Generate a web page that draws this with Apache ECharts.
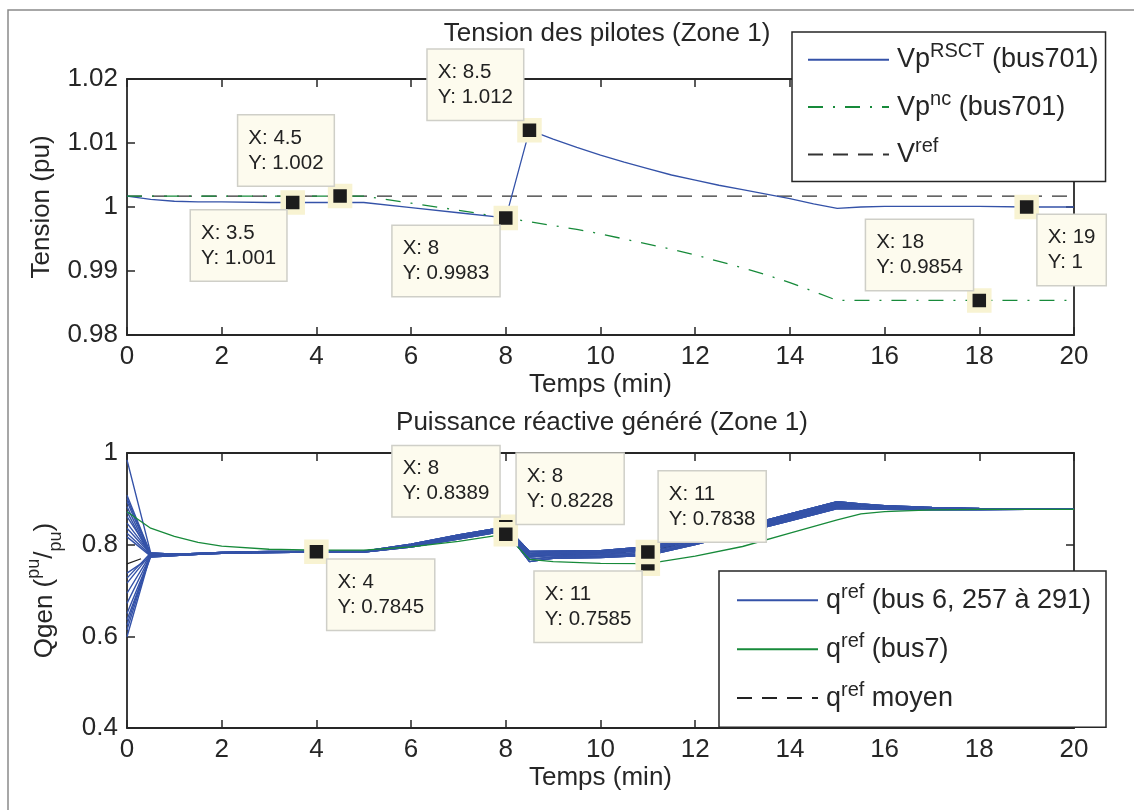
<!DOCTYPE html>
<html>
<head>
<meta charset="utf-8">
<script src="https://cdn.jsdelivr.net/npm/echarts@6/dist/echarts.min.js"></script>
<style>
  html, body { margin: 0; padding: 0; background: #fff; }
  #chart { width: 1134px; height: 810px; }
</style>
</head>
<body>
<div id="chart"></div>
<script>
// --- Tension des pilotes (zone 1) ---
const timeV = [0, 0.5, 1, 1.5, 2, 3, 3.5, 4, 4.5, 5, 6, 7, 8, 8.5, 9, 9.5, 10, 10.5, 11, 11.5,
  12, 12.5, 13, 13.5, 14, 14.5, 15, 15.5, 16, 17, 18, 19, 20];
const vpRsct = [1.0017, 1.0012, 1.0009, 1.0008, 1.0008, 1.0007, 1.0007, 1.0007, 1.0007, 1.0007,
  0.9999, 0.9991, 0.9983, 1.012, 1.0106, 1.0093, 1.0081, 1.0070, 1.0060, 1.0050,
  1.0042, 1.0034, 1.0027, 1.0020, 1.0013, 1.0005, 0.9998, 1.0000, 1.0001, 1.0001, 1.0001, 1.0000, 1.0000];
const vpNc = [1.0017, 1.0017, 1.0017, 1.0017, 1.0017, 1.0017, 1.0017, 1.0017, 1.0017, 1.0017,
  1.0006, 0.9995, 0.9983, 0.9977, 0.9971, 0.9965, 0.9958, 0.9950, 0.9942, 0.9934,
  0.9925, 0.9915, 0.9905, 0.9894, 0.9882, 0.9868, 0.9854, 0.9854, 0.9854, 0.9854, 0.9854, 0.9854, 0.9854];
const refTime = [0, 20];
const vRef = [1.0017, 1.0017];

// --- Puissance réactive (zone 1) ---
const timeQ = [0, 0.5, 1, 1.5, 2, 3, 4, 5, 6, 7, 8, 8.5, 9, 10, 11, 12, 13, 14, 15, 15.5, 16, 17, 18, 19, 20];
// valeurs initiales des courbes bleues (t = 0)
const qStart = [0.985, 0.908, 0.901, 0.894, 0.883, 0.872, 0.861, 0.847, 0.836, 0.825, 0.817,
  0.738, 0.727, 0.716, 0.694, 0.672, 0.650, 0.636, 0.625, 0.614, 0.599];
// suite des courbes bleues (t = 0.5 .. 20), lues du haut au bas du faisceau
const qBand1 = [0.782, 0.779, 0.781, 0.783, 0.785, 0.785, 0.786, 0.801, 0.821, 0.8389, 0.785, 0.786,
  0.787, 0.7956, 0.815, 0.840, 0.867, 0.894, 0.889, 0.885, 0.881, 0.879, 0.878, 0.877];
const qBand2 = [0.780, 0.779, 0.781, 0.783, 0.784, 0.785, 0.785, 0.800, 0.819, 0.837, 0.781, 0.783,
  0.784, 0.792, 0.812, 0.837, 0.864, 0.891, 0.887, 0.884, 0.880, 0.878, 0.877, 0.877];
const qBand3 = [0.779, 0.778, 0.780, 0.782, 0.784, 0.7845, 0.785, 0.799, 0.818, 0.836, 0.777, 0.780,
  0.781, 0.7885, 0.809, 0.834, 0.861, 0.888, 0.885, 0.883, 0.879, 0.878, 0.877, 0.877];
const qBand4 = [0.777, 0.777, 0.780, 0.782, 0.784, 0.7845, 0.785, 0.797, 0.816, 0.834, 0.773, 0.777,
  0.778, 0.7838, 0.806, 0.831, 0.858, 0.885, 0.883, 0.881, 0.878, 0.877, 0.877, 0.877];
const qBand5 = [0.775, 0.776, 0.779, 0.781, 0.783, 0.784, 0.784, 0.796, 0.814, 0.832, 0.768, 0.773,
  0.775, 0.780, 0.803, 0.828, 0.855, 0.882, 0.880, 0.879, 0.877, 0.877, 0.877, 0.877];
const qBand6 = [0.773, 0.776, 0.779, 0.781, 0.783, 0.784, 0.784, 0.795, 0.812, 0.830, 0.763, 0.770,
  0.772, 0.777, 0.800, 0.826, 0.852, 0.879, 0.878, 0.877, 0.876, 0.876, 0.877, 0.877];
const qBus7 = [0.872, 0.836, 0.818, 0.805, 0.797, 0.790, 0.788, 0.788, 0.795, 0.807, 0.8228, 0.768,
  0.763, 0.759, 0.7585, 0.775, 0.796, 0.825, 0.854, 0.867, 0.872, 0.876, 0.877, 0.877, 0.877];
const qMean = [0.758, 0.777, 0.778, 0.780, 0.782, 0.784, 0.7845, 0.785, 0.798, 0.816, 0.834, 0.774,
  0.778, 0.780, 0.786, 0.808, 0.833, 0.859, 0.886, 0.884, 0.881, 0.878, 0.877, 0.877, 0.877];

// --- data tips (X, Y, texte affiché, côté de la bulle) ---
const topTipX = [3.5, 4.5, 8, 8.5, 18, 19];
const topTipY = [1.0007, 1.0017, 0.9983, 1.012, 0.9854, 1.0];
const topTipText = ['1.001', '1.002', '0.9983', '1.012', '0.9854', '1'];
const topTipSide = ['dl', 'ul', 'dl', 'ul', 'ul', 'dr'];
const botTipX = [4, 8, 8, 11, 11];
const botTipY = [0.7845, 0.8389, 0.8228, 0.7585, 0.7838];
const botTipText = ['0.7845', '0.8389', '0.8228', '0.7585', '0.7838'];
const botTipSide = ['dr', 'ul', 'ur', 'dl', 'ur'];

const FONT = '"Liberation Sans", Arial, Helvetica, sans-serif';
const INK = '#262626';
const BLUE = '#3452a8';
const GREEN = '#178a3a';

const pairs = (xs, ys) => xs.map((x, i) => [x, ys[i]]);

function tipItems(xs, ys, texts, sides) {
  return xs.map((x, i) => {
    const s = sides[i];
    const left = s[1] === 'l';
    const up = s[0] === 'u';
    return {
      value: [x, ys[i]],
      name: texts[i],
      label: {
        position: 'inside',
        offset: [left ? -6.5 : 11, up ? -10.5 : 8],
        align: left ? 'right' : 'left',
        verticalAlign: up ? 'bottom' : 'top'
      }
    };
  });
}

function tipSeries(xi, yi, items) {
  return {
    type: 'scatter', xAxisIndex: xi, yAxisIndex: yi, z: 5, silent: true,
    symbol: 'rect', symbolSize: 19,
    itemStyle: { color: '#1c1c1c', borderColor: '#f8f3d2', borderWidth: 5.5, opacity: 1 },
    label: {
      show: true,
      formatter: p => '{t|X: ' + p.value[0] + '}\n{t|Y: ' + p.name + '}',
      rich: { t: { fontFamily: FONT, fontSize: 20.5, lineHeight: 25, color: '#222', align: 'left' } },
      fontFamily: FONT, fontSize: 20.5, lineHeight: 25, color: '#222',
      backgroundColor: '#fdfbee', borderColor: '#cfcfc8', borderWidth: 1.5,
      padding: [10, 10, 10, 10]
    },
    data: items
  };
}

function xAx(grid, pos, extra) {
  return Object.assign({
    gridIndex: grid, type: 'value', min: 0, max: 20, interval: 2, position: pos,
    axisLine: { onZero: false, lineStyle: { color: INK, width: 1.8 } },
    axisTick: { inside: true, length: 8, lineStyle: { color: INK, width: 1.5 } },
    axisLabel: { show: pos === 'bottom', fontFamily: FONT, fontSize: 26, color: INK, margin: 9 },
    splitLine: { show: false }
  }, extra || {});
}
function yAx(grid, pos, min, max, interval, extra) {
  return Object.assign({
    gridIndex: grid, type: 'value', min: min, max: max, interval: interval, position: pos,
    axisLine: { onZero: false, lineStyle: { color: INK, width: 1.8 } },
    axisTick: { inside: true, length: 8, lineStyle: { color: INK, width: 1.5 } },
    axisLabel: { show: pos === 'left', fontFamily: FONT, fontSize: 26, color: INK, margin: 9 },
    splitLine: { show: false }
  }, extra || {});
}

const nameStyle = { fontFamily: FONT, fontSize: 26, color: INK };

const legendRich = {
  m0: { fontFamily: FONT, fontSize: 27, lineHeight: 36, color: INK, padding: [0, 0, 0, 3] },
  m: { fontFamily: FONT, fontSize: 27, lineHeight: 36, color: INK },
  s: { fontFamily: FONT, fontSize: 20, lineHeight: 18, color: INK, verticalAlign: 'top' }
};
const legendText = {
  rsct: '{m0|Vp}{s|RSCT}{m| (bus701)}',
  nc: '{m0|Vp}{s|nc}{m| (bus701)}',
  ref: '{m0|V}{s|ref}',
  q1: '{m0|q}{s|ref}{m| (bus 6, 257 à 291)}',
  q7: '{m0|q}{s|ref}{m| (bus7)}',
  qm: '{m0|q}{s|ref}{m| moyen}'
};
const legendBase = {
  orient: 'vertical', itemWidth: 81, itemHeight: 20, selectedMode: false,
  backgroundColor: '#fff', borderColor: INK, borderWidth: 1.5, borderRadius: 0,
  itemStyle: { opacity: 0, borderWidth: 0 },
  formatter: n => legendText[n],
  textStyle: { rich: legendRich }
};

const series = [
  { name: 'rsct', type: 'line', xAxisIndex: 0, yAxisIndex: 0, symbol: 'none',
    lineStyle: { color: BLUE, width: 1.3 }, itemStyle: { color: BLUE }, data: pairs(timeV, vpRsct) },
  { name: 'nc', type: 'line', xAxisIndex: 0, yAxisIndex: 0, symbol: 'none',
    lineStyle: { color: GREEN, width: 1.3, type: [15, 10, 2, 10] }, itemStyle: { color: GREEN }, data: pairs(timeV, vpNc) },
  { name: 'ref', type: 'line', xAxisIndex: 0, yAxisIndex: 0, symbol: 'none', z: 1,
    lineStyle: { color: '#333', width: 1.3, type: [15, 10] }, itemStyle: { color: '#333' }, data: pairs(refTime, vRef) },
  { name: 'qm', type: 'line', xAxisIndex: 2, yAxisIndex: 2, symbol: 'none', z: 1,
    lineStyle: { color: '#222', width: 1.3, type: [15, 10] }, itemStyle: { color: '#222' }, data: pairs(timeQ, qMean) }
];
const blueBand = [qBand1, qBand2, qBand3, qBand4, qBand5, qBand6];
qStart.forEach((v0, i) => {
  series.push({ name: 'q1', type: 'line', xAxisIndex: 2, yAxisIndex: 2, symbol: 'none',
    lineStyle: { color: BLUE, width: 1.4 }, itemStyle: { color: BLUE },
    data: pairs(timeQ, [v0].concat(blueBand[i % blueBand.length])) });
});
series.push({ name: 'q7', type: 'line', xAxisIndex: 2, yAxisIndex: 2, symbol: 'none',
  lineStyle: { color: GREEN, width: 1.3 }, itemStyle: { color: GREEN }, data: pairs(timeQ, qBus7) });
series.push(tipSeries(0, 0, tipItems(topTipX, topTipY, topTipText, topTipSide)));
series.push(tipSeries(2, 2, tipItems(botTipX, botTipY, botTipText, botTipSide)));

const chart = echarts.init(document.getElementById('chart'), null, { renderer: 'canvas' });
chart.setOption({
  animation: false,
  backgroundColor: '#fff',
  graphic: [{ type: 'rect', silent: true, z: -10,
    shape: { x: 8, y: 10, width: 1200, height: 900 },
    style: { fill: 'none', stroke: '#8a8a8a', lineWidth: 1.5 } }],
  title: [
    { text: 'Tension des pilotes (Zone 1)', left: 607, top: 21, textAlign: 'center', padding: 0,
      textStyle: { fontFamily: FONT, fontSize: 26, fontWeight: 'normal', color: INK } },
    { text: 'Puissance réactive généré (Zone 1)', left: 602, top: 410, textAlign: 'center', padding: 0,
      textStyle: { fontFamily: FONT, fontSize: 26, fontWeight: 'normal', color: INK } }
  ],
  grid: [
    { left: 127, top: 79, width: 947, height: 256 },
    { left: 127, top: 453, width: 947, height: 275 }
  ],
  legend: [
    Object.assign({}, legendBase, { data: ['rsct', 'nc', 'ref'], left: 792, top: 32,
      itemGap: 15.9, padding: [9.7, 7, 13.5, 15] }),
    Object.assign({}, legendBase, { data: ['q1', 'q7', 'qm'], left: 719, top: 571,
      itemGap: 17.4, padding: [11.3, 15, 15.6, 17] })
  ],
  xAxis: [
    xAx(0, 'bottom', { name: 'Temps (min)', nameLocation: 'middle', nameGap: 37, nameTextStyle: nameStyle }),
    xAx(0, 'top'),
    xAx(1, 'bottom', { name: 'Temps (min)', nameLocation: 'middle', nameGap: 37, nameTextStyle: nameStyle }),
    xAx(1, 'top')
  ],
  yAxis: [
    yAx(0, 'left', 0.98, 1.02, 0.01, { name: 'Tension (pu)', nameLocation: 'middle', nameRotate: 90,
      nameGap: 72, nameTextStyle: nameStyle }),
    yAx(0, 'right', 0.98, 1.02, 0.01),
    yAx(1, 'left', 0.4, 1, 0.2, {
      name: '{m|Qgen (}{s|pu}{m|/}{b|pu}{m|)}', nameLocation: 'middle', nameRotate: 90, nameGap: 62,
      nameTextStyle: { rich: {
        m: { fontFamily: FONT, fontSize: 26, lineHeight: 40, color: INK },
        s: { fontFamily: FONT, fontSize: 18, lineHeight: 20, color: INK, verticalAlign: 'top' },
        b: { fontFamily: FONT, fontSize: 18, lineHeight: 20, color: INK, verticalAlign: 'bottom' }
      } } }),
    yAx(1, 'right', 0.4, 1, 0.2)
  ],
  series: series
});
</script>
</body>
</html>
